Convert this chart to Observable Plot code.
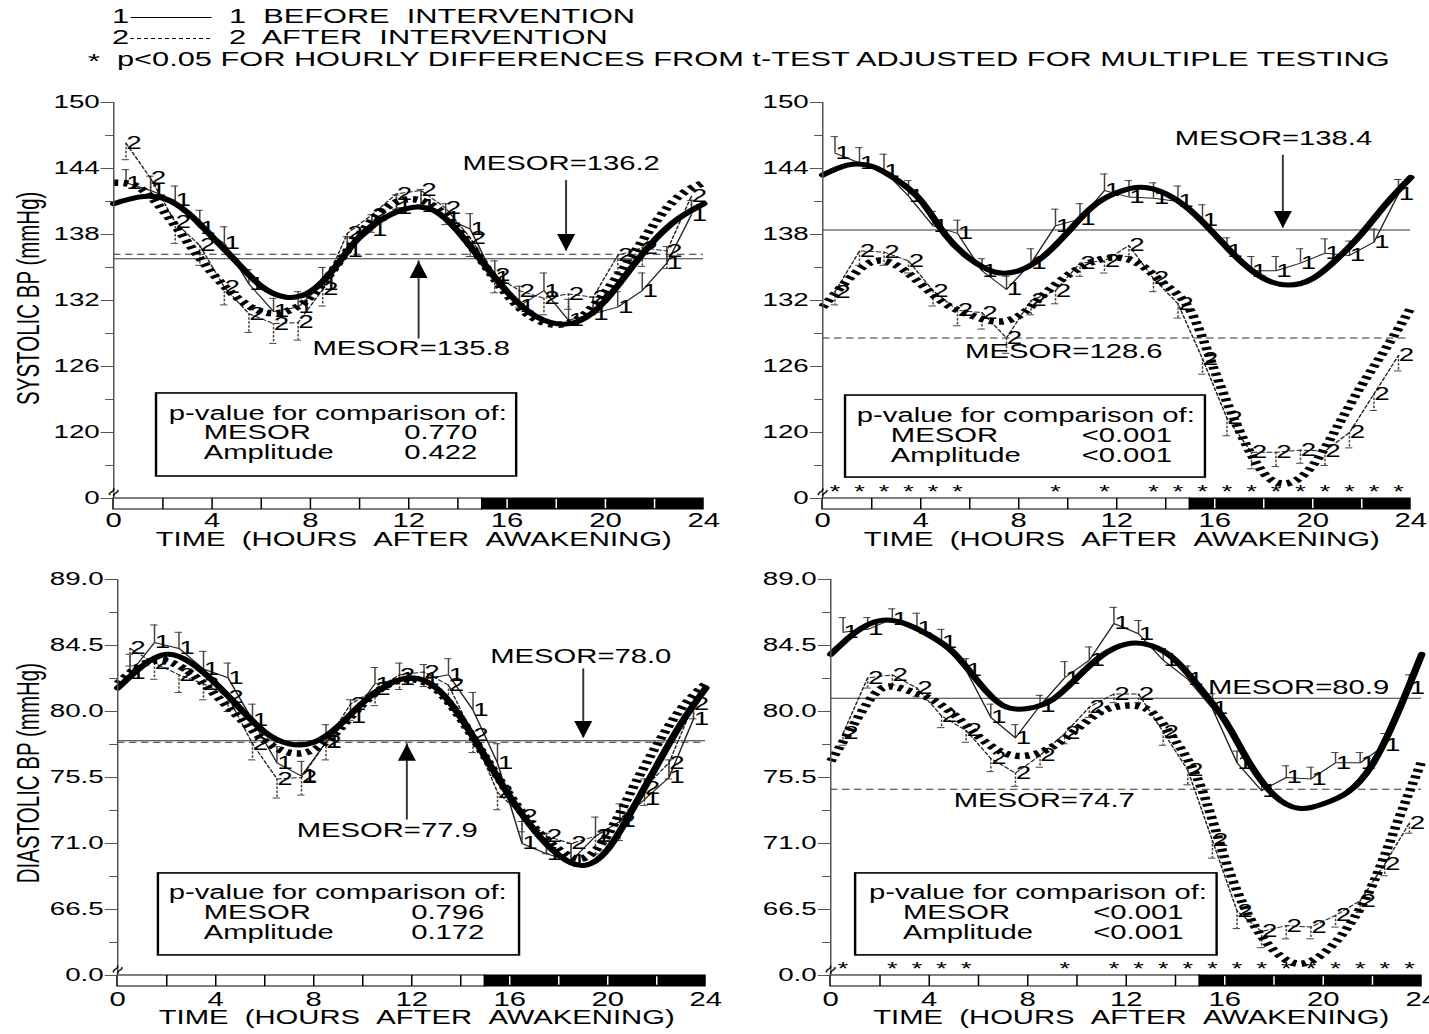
<!DOCTYPE html>
<html>
<head>
<meta charset="utf-8">
<script src="https://cdn.jsdelivr.net/npm/d3@7"></script>
<script src="https://cdn.jsdelivr.net/npm/@observablehq/plot@0.6"></script>
<style>
  html, body { margin: 0; padding: 0; background: #fff; }
  #stage { position: relative; height: 1034px; transform-origin: 0 0; font-family: "Liberation Sans", Arial, Helvetica, sans-serif; color: #000; }
  .panel { position: absolute; }
  .panel svg { overflow: visible; background: transparent; }
  .leg { position: absolute; white-space: pre; font-size: 20.5px; line-height: 20px; }
  .legline { position: absolute; height: 1.4px; }
</style>
</head>
<body>
<div id="stage"></div>
<script>
// ---------------- DATA ----------------
const meanHours = [0.5,1.5,2.5,3.5,4.5,5.5,6.5,7.5,8.5,9.5,10.5,11.5,12.5,13.5,14.5,15.5,16.5,17.5,18.5,19.5,20.5,21.5,22.5,23.5];
const fitHours = [0,1,2,3,4,5,6,7,8,9,10,11,12,13,14,15,16,17,18,19,20,21,22,23,24];

// Systolic, left panel
const sysL_before   = [142.7,142.0,141.1,138.6,137.2,133.5,131.0,131.4,133.5,136.5,138.4,140.4,140.6,139.5,138.5,134.0,131.5,132.9,130.2,130.8,131.4,132.9,135.4,139.8];
const sysL_beforeSE = [1.2,1.3,1.3,1.6,1.5,1.3,1.2,1.4,1.5,1.3,1.4,1.2,1.5,1.3,1.4,1.6,1.8,1.6,1.9,1.5,1.4,1.6,1.5,1.3];
const sysL_after    = [146.3,143.1,139.1,137.0,133.2,130.8,129.9,130.0,133.0,138.1,139.8,141.7,142.0,140.4,137.7,134.3,132.9,132.2,132.6,132.3,136.1,136.8,136.5,141.5];
const sysL_afterSE  = [1.5,1.4,1.9,1.8,1.6,1.7,1.8,1.6,1.5,1.5,1.6,1.4,1.3,1.5,1.7,1.6,1.5,1.5,1.4,1.6,1.5,1.7,1.6,1.4];
const sysL_fitBefore = [140.8,141.4,141.3,140.0,137.8,135.5,133.3,132.3,132.8,135.0,137.8,139.5,140.4,140.2,138.3,135.5,132.8,130.8,129.9,130.2,132.0,134.8,137.5,139.5,140.8];
const sysL_fitAfter  = [142.7,142.3,140.2,137.3,134.5,132.3,131.0,131.0,132.3,135.0,138.0,140.3,141.2,140.6,138.5,135.5,132.5,130.5,129.8,130.5,132.8,135.8,139.0,141.5,142.7];

// Systolic, right panel
const sysR_before   = [145.4,144.5,143.8,141.5,138.8,138.1,134.7,133.0,135.4,138.8,139.4,142.0,141.4,141.3,141.0,139.3,136.5,134.7,134.7,135.4,136.3,136.1,137.3,141.7];
const sysR_beforeSE = [1.5,1.4,1.5,1.4,1.3,1.2,1.1,1.2,1.3,1.5,1.4,1.5,1.5,1.4,1.4,1.4,1.2,1.3,1.3,1.3,1.3,1.3,1.2,1.3];
const sysR_after    = [132.8,136.5,136.4,135.6,132.9,131.1,130.9,128.6,132.0,132.9,135.4,135.6,137.0,134.0,131.7,126.7,121.3,118.2,118.2,118.4,118.3,120.0,123.5,127.0];
const sysR_afterSE  = [1.2,1.3,1.2,1.1,1.4,1.4,1.5,1.4,1.3,1.2,1.2,1.1,1.0,1.2,1.3,1.4,1.6,1.5,1.3,1.2,1.3,1.4,1.5,1.4];
const sysR_fitBefore = [143.4,144.3,144.2,143.0,141.1,138.0,135.8,134.6,134.7,136.0,138.2,140.5,141.8,142.3,141.7,140.2,138.0,135.7,134.0,133.4,134.0,135.8,138.1,140.8,143.2];
const sysR_fitAfter  = [131.4,133.8,135.5,135.2,133.5,131.7,130.7,130.1,130.6,132.5,134.3,135.5,135.9,135.2,133.4,131.1,125.6,120.2,116.3,115.4,117.0,120.5,124.3,127.7,131.3];
const sysR_sigHours  = [0.5,1.5,2.5,3.5,4.5,5.5,9.5,11.5,13.5,14.5,15.5,16.5,17.5,18.5,19.5,20.5,21.5,22.5,23.5];

// Diastolic, left panel
const diaL_before   = [82.6,84.7,84.3,82.9,82.3,79.4,76.5,75.6,77.9,79.6,81.9,82.2,82.2,82.5,80.1,76.5,71.0,70.3,69.8,71.5,72.5,74.0,75.5,79.5];
const diaL_beforeSE = [1.3,1.2,1.1,1.2,1.0,1.1,1.1,1.0,1.2,1.2,1.1,1.1,1.0,1.1,1.2,1.3,1.5,1.4,1.2,1.3,1.2,1.4,1.2,1.1];
const diaL_after    = [84.3,83.3,82.5,81.9,81.0,77.8,75.4,75.5,77.9,80.5,81.5,82.5,82.7,81.8,78.4,74.5,72.9,71.5,71.0,71.5,72.5,74.8,76.5,80.5];
const diaL_afterSE  = [1.2,1.1,1.2,1.1,1.0,1.1,1.3,1.2,1.2,1.1,1.1,1.0,1.0,1.1,1.2,1.2,1.1,1.2,1.1,1.2,1.3,1.2,1.1,1.0];
const diaL_fitBefore = [81.6,83.1,83.9,83.3,81.9,80.2,78.6,77.8,77.9,79.0,80.6,81.8,82.3,81.6,79.6,76.9,74.2,71.9,70.2,69.5,70.6,73.3,76.3,79.2,81.6];
const diaL_fitAfter  = [81.9,83.2,83.4,82.6,81.1,79.5,78.0,77.2,77.4,78.7,80.5,81.8,82.2,81.5,79.5,76.9,74.3,72.1,70.6,70.0,71.6,74.7,77.7,80.2,81.9];

// Diastolic, right panel
const diaR_before   = [85.4,85.6,86.3,85.7,84.7,82.8,79.6,78.2,80.4,82.3,83.5,86.0,85.3,83.5,82.2,80.2,76.5,74.6,75.5,75.4,76.5,76.5,77.7,81.6];
const diaR_beforeSE = [1.0,0.8,0.7,1.0,0.9,0.8,0.9,0.9,0.7,1.1,0.9,1.1,0.9,0.8,0.9,1.0,0.8,0.7,0.8,0.8,0.7,0.7,0.8,0.9];
const diaR_after    = [78.5,82.3,82.5,81.6,79.7,78.7,76.8,75.8,77.0,78.5,80.3,81.2,81.2,78.6,76.0,71.2,66.4,65.0,65.4,65.3,66.1,67.1,69.6,72.4];
const diaR_afterSE  = [0.8,0.7,0.7,0.6,0.8,0.8,0.9,0.9,0.8,0.7,0.7,0.6,0.6,0.9,1.0,1.2,1.2,1.1,0.9,0.8,0.8,0.8,0.8,0.7];
const diaR_fitBefore = [83.9,85.4,86.2,86.0,85.2,84.0,82.0,80.4,80.2,80.8,82.3,83.8,84.6,84.5,83.5,81.6,79.4,76.5,74.3,73.4,73.7,74.5,76.4,79.8,83.9];
const diaR_fitAfter  = [76.6,79.3,81.5,81.5,80.9,79.8,78.3,77.2,77.0,77.6,78.8,80.0,80.4,80.0,78.0,75.0,70.0,66.0,63.7,62.8,63.5,65.3,68.2,72.4,76.6];
const diaR_sigHours  = [0.5,2.5,3.5,4.5,5.5,9.5,11.5,12.5,13.5,14.5,15.5,16.5,17.5,18.5,19.5,20.5,21.5,22.5,23.5];

const mesorBefore = [135.8, 138.4, 78.0, 80.9];
const mesorAfter  = [136.2, 128.6, 77.9, 74.7];
const pMesor = ["0.770", "<0.001", "0.796", "<0.001"];
const pAmp   = ["0.422", "<0.001", "0.172", "<0.001"];

const sysTickValues = [150,144,138,132,126,120,114];
const sysTickLabels = ["150","144","138","132","126","120","0"];
const sysMinorTicks = [147,141,135,129,123,117];
const diaTickValues = [89,84.5,80,75.5,71,66.5,62];
const diaTickLabels = ["89.0","84.5","80.0","75.5","71.0","66.5","0.0"];
const diaMinorTicks = [86.75,82.25,77.75,73.25,68.75,64.25];
const xTicks = [0,4,8,12,16,20,24];

const barLight = [[0,15]];
const barDark  = [[15,24]];
const barDividers = [2,4,6,8,10,12,14,16,18,20,22];

const seriesMarks = ["1", "2"];
const legendLabels = ["BEFORE  INTERVENTION", "AFTER  INTERVENTION"];
const footnote = "p<0.05 FOR HOURLY DIFFERENCES FROM t-TEST ADJUSTED FOR MULTIPLE TESTING";
const xTitle = "TIME  (HOURS  AFTER  AWAKENING)";
const yTitles = ["SYSTOLIC BP (mmHg)", "DIASTOLIC BP (mmHg)"];
const boxTitle = "p-value for comparison of:";
const boxNames = ["MESOR", "Amplitude"];
const breakGlyph = "≈";

// ---------------- LAYOUT ----------------
const S = 1.5;   // horizontal stretch of the original figure
const FONT = '"Liberation Sans", Arial, Helvetica, sans-serif';
const nb = s => s.replace(/ /g, "\u00a0");

const stage = document.getElementById("stage");
stage.style.width = (1429 / S) + "px";
stage.style.transform = `scaleX(${S})`;

function legText(txt, x, yc, size) {
  const d = document.createElement("div");
  d.className = "leg";
  d.textContent = txt;
  d.style.left = (x / S) + "px";
  d.style.top = (yc - 10) + "px";
  if (size) d.style.fontSize = size + "px";
  stage.appendChild(d);
}
function legLine(x1, x2, y, dashed) {
  const d = document.createElement("div");
  d.className = "legline";
  d.style.left = (x1 / S) + "px";
  d.style.width = ((x2 - x1) / S) + "px";
  d.style.top = y + "px";
  d.style.background = dashed
    ? "repeating-linear-gradient(to right, #000 0 2.6px, transparent 2.6px 4.6px)"
    : "#000";
  stage.appendChild(d);
}
legText(seriesMarks[0], 112, 16);
legLine(131, 212, 16.5, false);
legText(seriesMarks[0] + "  " + legendLabels[0], 229, 16);
legText(seriesMarks[1], 112, 37);
legLine(131, 212, 38, true);
legText(seriesMarks[1] + "  " + legendLabels[1], 229, 37);
legText("*", 88, 61);
legText(footnote, 117, 59);

const layouts = [
  {left: 0,   top: 85,  width: 714, height: 475, ml: 113, mr: 11, mt: 17, mb: 51},
  {left: 714, top: 85,  width: 715, height: 475, ml: 108, mr: 19, mt: 17, mb: 51},
  {left: 0,   top: 560, width: 714, height: 474, ml: 117, mr: 9,  mt: 19, mb: 48},
  {left: 714, top: 560, width: 715, height: 474, ml: 116, mr: 8,  mt: 19, mb: 48}
];

const sysScale = {barLo: 113, zero: 114, top: 150, ticks: sysTickValues, labels: sysTickLabels, minor: sysMinorTicks, starY: 114.6, brk: 114.55};
const diaScale = {barLo: 61.25, zero: 62, top: 89, ticks: diaTickValues, labels: diaTickLabels, minor: diaMinorTicks, starY: 62.4, brk: 62.4};

const annotations = [
  { labels: [{h: 18.2, v: 144.4, which: 1}, {h: 12.1, v: 127.6, which: 0}],
    arrows: [{h: 18.4, tail: 142.9, tip: 136.5, dir: "down"}, {h: 12.4, tail: 128.5, tip: 135.6, dir: "up"}],
    box: {x1: 1.75, x2: 16.40, y1: 116.0, y2: 123.55},
    bt: {hTitle: 2.24, hName: 3.66, hValue: 13.30, vTitle: 121.73, vMesor: 120.0, vAmp: 118.18},
    yTitle: {v: 132.2, dx: (28 - 113) / S}, xLabDy: 4, xTitleDy: 23 },
  { labels: [{h: 18.4, v: 146.7, which: 0}, {h: 9.84, v: 127.3, which: 1}],
    arrows: [{h: 18.78, tail: 145.2, tip: 138.6, dir: "down"}],
    box: {x1: 0.94, x2: 15.63, y1: 115.9, y2: 123.36},
    bt: {hTitle: 1.39, hName: 2.78, hValue: 12.41, vTitle: 121.55, vMesor: 119.73, vAmp: 117.9},
    yTitle: null, xLabDy: 4, xTitleDy: 23 },
  { labels: [{h: 18.9, v: 83.7, which: 0}, {h: 11.0, v: 71.9, which: 1}],
    arrows: [{h: 19.0, tail: 82.9, tip: 78.2, dir: "down"}, {h: 11.8, tail: 72.6, tip: 77.8, dir: "up"}],
    box: {x1: 1.67, x2: 16.41, y1: 63.37, y2: 68.96},
    bt: {hTitle: 2.08, hName: 3.51, hValue: 13.47, vTitle: 67.66, vMesor: 66.30, vAmp: 64.94},
    yTitle: {v: 75.8, dx: (28 - 117) / S}, xLabDy: 6, xTitleDy: 24 },
  { labels: [{h: 19.0, v: 81.6, which: 0}, {h: 8.67, v: 73.9, which: 1}],
    arrows: [],
    box: {x1: 1.02, x2: 15.70, y1: 63.37, y2: 68.96},
    bt: {hTitle: 1.55, hName: 2.93, hValue: 12.49, vTitle: 67.66, vMesor: 66.30, vAmp: 64.94},
    yTitle: null, xLabDy: 6, xTitleDy: 24 }
];

const panels = [
  {scale: sysScale, before: sysL_before, beforeSE: sysL_beforeSE, after: sysL_after, afterSE: sysL_afterSE, fitBefore: sysL_fitBefore, fitAfter: sysL_fitAfter, sig: null, yTitle: yTitles[0]},
  {scale: sysScale, before: sysR_before, beforeSE: sysR_beforeSE, after: sysR_after, afterSE: sysR_afterSE, fitBefore: sysR_fitBefore, fitAfter: sysR_fitAfter, sig: sysR_sigHours, yTitle: null},
  {scale: diaScale, before: diaL_before, beforeSE: diaL_beforeSE, after: diaL_after, afterSE: diaL_afterSE, fitBefore: diaL_fitBefore, fitAfter: diaL_fitAfter, sig: null, yTitle: yTitles[1]},
  {scale: diaScale, before: diaR_before, beforeSE: diaR_beforeSE, after: diaR_after, afterSE: diaR_afterSE, fitBefore: diaR_fitBefore, fitAfter: diaR_fitAfter, sig: diaR_sigHours, yTitle: null}
];

const arrowDown = {draw(ctx, size) { const r = Math.sqrt(size / Math.PI); const a = 0.6 * r, H = 1.7 * r; ctx.moveTo(0, 0); ctx.lineTo(-a, -H); ctx.lineTo(a, -H); ctx.closePath(); }};
const arrowUp   = {draw(ctx, size) { const r = Math.sqrt(size / Math.PI); const a = 0.6 * r, H = 1.7 * r; ctx.moveTo(0, 0); ctx.lineTo(-a, H); ctx.lineTo(a, H); ctx.closePath(); }};

function buildPanel(i) {
  const P = panels[i], L = layouts[i], A = annotations[i], sc = P.scale;
  const before = meanHours.map((h, k) => ({h, v: P.before[k], se: P.beforeSE[k]}));
  const after  = meanHours.map((h, k) => ({h, v: P.after[k],  se: P.afterSE[k]}));
  const fitB = fitHours.map((h, k) => ({h, v: P.fitBefore[k]}));
  const fitA = fitHours.map((h, k) => ({h, v: P.fitAfter[k]}));
  const capW = 0.15;
  const barColor = "#444";
  const mesorLabels = A.labels.map(d => ({h: d.h, v: d.v, text: "MESOR=" + (d.which ? mesorAfter[i] : mesorBefore[i]).toFixed(1)}));
  const box = [A.box];
  const bt = A.bt;
  const boxTexts = [
    {h: bt.hTitle, v: bt.vTitle, text: boxTitle},
    {h: bt.hName, v: bt.vMesor, text: boxNames[0]},
    {h: bt.hName, v: bt.vAmp, text: boxNames[1]}
  ];
  const boxValues = [
    {h: bt.hValue, v: bt.vMesor, text: pMesor[i]},
    {h: bt.hValue, v: bt.vAmp, text: pAmp[i]}
  ];

  const marks = [
    Plot.ruleY([mesorBefore[i]], {y: d => d, x1: 0, x2: 24, stroke: "#333", strokeWidth: 1}),
    Plot.ruleY([mesorAfter[i]], {y: d => d, x1: 0, x2: 24, stroke: "#333", strokeWidth: 1, strokeDasharray: "5,3"}),
    Plot.ruleX(before, {x: "h", y1: "v", y2: d => d.v + d.se, stroke: barColor, strokeWidth: 1}),
    Plot.ruleY(before, {y: d => d.v + d.se, x1: d => d.h - capW, x2: d => d.h + capW, stroke: barColor, strokeWidth: 1}),
    Plot.ruleX(after, {x: "h", y1: "v", y2: d => d.v - d.se, stroke: barColor, strokeWidth: 1, strokeDasharray: "2.5,1.5"}),
    Plot.ruleY(after, {y: d => d.v - d.se, x1: d => d.h - capW, x2: d => d.h + capW, stroke: barColor, strokeWidth: 1}),
    Plot.line(before, {x: "h", y: "v", stroke: "#222", strokeWidth: 1}),
    Plot.line(after, {x: "h", y: "v", stroke: "#222", strokeWidth: 1, strokeDasharray: "3,2"}),
    Plot.text(before, {x: "h", y: "v", text: () => seriesMarks[0], dx: 5.3, fontSize: 18.5, lineAnchor: "middle"}),
    Plot.text(after, {x: "h", y: "v", text: () => seriesMarks[1], dx: 5.3, fontSize: 18.5, lineAnchor: "middle"}),
    Plot.line(fitB, {x: "h", y: "v", curve: "natural", stroke: "#000", strokeWidth: 5}),
    Plot.line(fitA, {x: "h", y: "v", curve: "natural", stroke: "#000", strokeWidth: 6.5, strokeDasharray: "3,3.6", strokeLinecap: "butt"}),
    Plot.rect(barLight, {x1: d => d[0], x2: d => d[1], y1: sc.barLo, y2: sc.zero, fill: "#fff", stroke: "#000", strokeWidth: 1}),
    Plot.rect(barDark, {x1: d => d[0], x2: d => d[1], y1: sc.barLo, y2: sc.zero, fill: "#000", stroke: "#000", strokeWidth: 1}),
    Plot.ruleX(barDividers.filter(h => h < 15), {x: d => d, y1: sc.barLo, y2: sc.zero, stroke: "#000", strokeWidth: 1}),
    Plot.ruleX(barDividers.filter(h => h > 15), {x: d => d, y1: sc.barLo + 0.08, y2: sc.zero - 0.08, stroke: "#fff", strokeWidth: 1}),
    Plot.ruleX([0], {x: d => d, y1: sc.zero, y2: sc.top, stroke: "#555", strokeWidth: 1}),
    Plot.ruleY(sc.ticks, {y: d => d, x1: -0.5, x2: 0, stroke: "#555", strokeWidth: 1}),
    Plot.ruleY(sc.minor, {y: d => d, x1: -0.32, x2: 0, stroke: "#555", strokeWidth: 1}),
    Plot.text([breakGlyph], {x: 0, y: sc.brk, text: d => d, rotate: -65, fontSize: 15, lineAnchor: "middle"}),
    Plot.text(sc.ticks, {x: 0, y: d => d, text: (d, k) => sc.labels[k], textAnchor: "end", lineAnchor: "middle", dx: -14 / S, fontSize: 18.5}),
    Plot.text(xTicks, {x: d => d, y: sc.barLo, text: d => String(d), lineAnchor: "top", dy: A.xLabDy, fontSize: 19.5}),
    Plot.text([xTitle], {x: 12.2, y: sc.barLo, text: d => nb(d), lineAnchor: "top", dy: A.xTitleDy, fontSize: 19.5}),
    Plot.text(mesorLabels, {x: "h", y: "v", text: "text", fontSize: 19.5, lineAnchor: "middle"}),
    Plot.ruleX(A.arrows, {x: "h", y1: "tail", y2: "tip", stroke: "#333", strokeWidth: 1.3}),
    Plot.dot(A.arrows.filter(d => d.dir === "down"), {x: "h", y: "tip", symbol: arrowDown, r: 10, fill: "#000", stroke: "none"}),
    Plot.dot(A.arrows.filter(d => d.dir === "up"), {x: "h", y: "tip", symbol: arrowUp, r: 10, fill: "#000", stroke: "none"}),
    Plot.rect(box, {x1: "x1", x2: "x2", y1: "y1", y2: "y2", fill: "#fff", stroke: "#000", strokeWidth: 1.6}),
    Plot.text(boxTexts, {x: "h", y: "v", text: "text", textAnchor: "start", lineAnchor: "middle", fontSize: 19.5}),
    Plot.text(boxValues, {x: "h", y: "v", text: "text", textAnchor: "middle", lineAnchor: "middle", fontSize: 19.5})
  ];
  if (P.sig) marks.push(Plot.text(P.sig, {x: d => d, y: sc.starY, text: () => "*", fontSize: 18, lineAnchor: "middle"}));
  if (P.yTitle) marks.push(Plot.text([P.yTitle], {x: 0, y: A.yTitle.v, text: d => d, rotate: -90, dx: A.yTitle.dx, fontSize: 20.5, lineAnchor: "middle", textAnchor: "middle"}));

  const svg = Plot.plot({
    width: L.width / S,
    height: L.height,
    marginLeft: L.ml / S,
    marginRight: L.mr / S,
    marginTop: L.mt,
    marginBottom: L.mb,
    x: {domain: [0, 24], axis: null},
    y: {domain: [sc.barLo, sc.top], axis: null},
    style: {fontFamily: FONT, fontSize: "19px", background: "transparent", color: "#000", overflow: "visible"},
    marks
  });
  const holder = document.createElement("div");
  holder.className = "panel";
  holder.style.left = (L.left / S) + "px";
  holder.style.top = L.top + "px";
  holder.appendChild(svg);
  stage.appendChild(holder);
}
for (let i = 0; i < 4; i++) buildPanel(i);
</script>
</body>
</html>
